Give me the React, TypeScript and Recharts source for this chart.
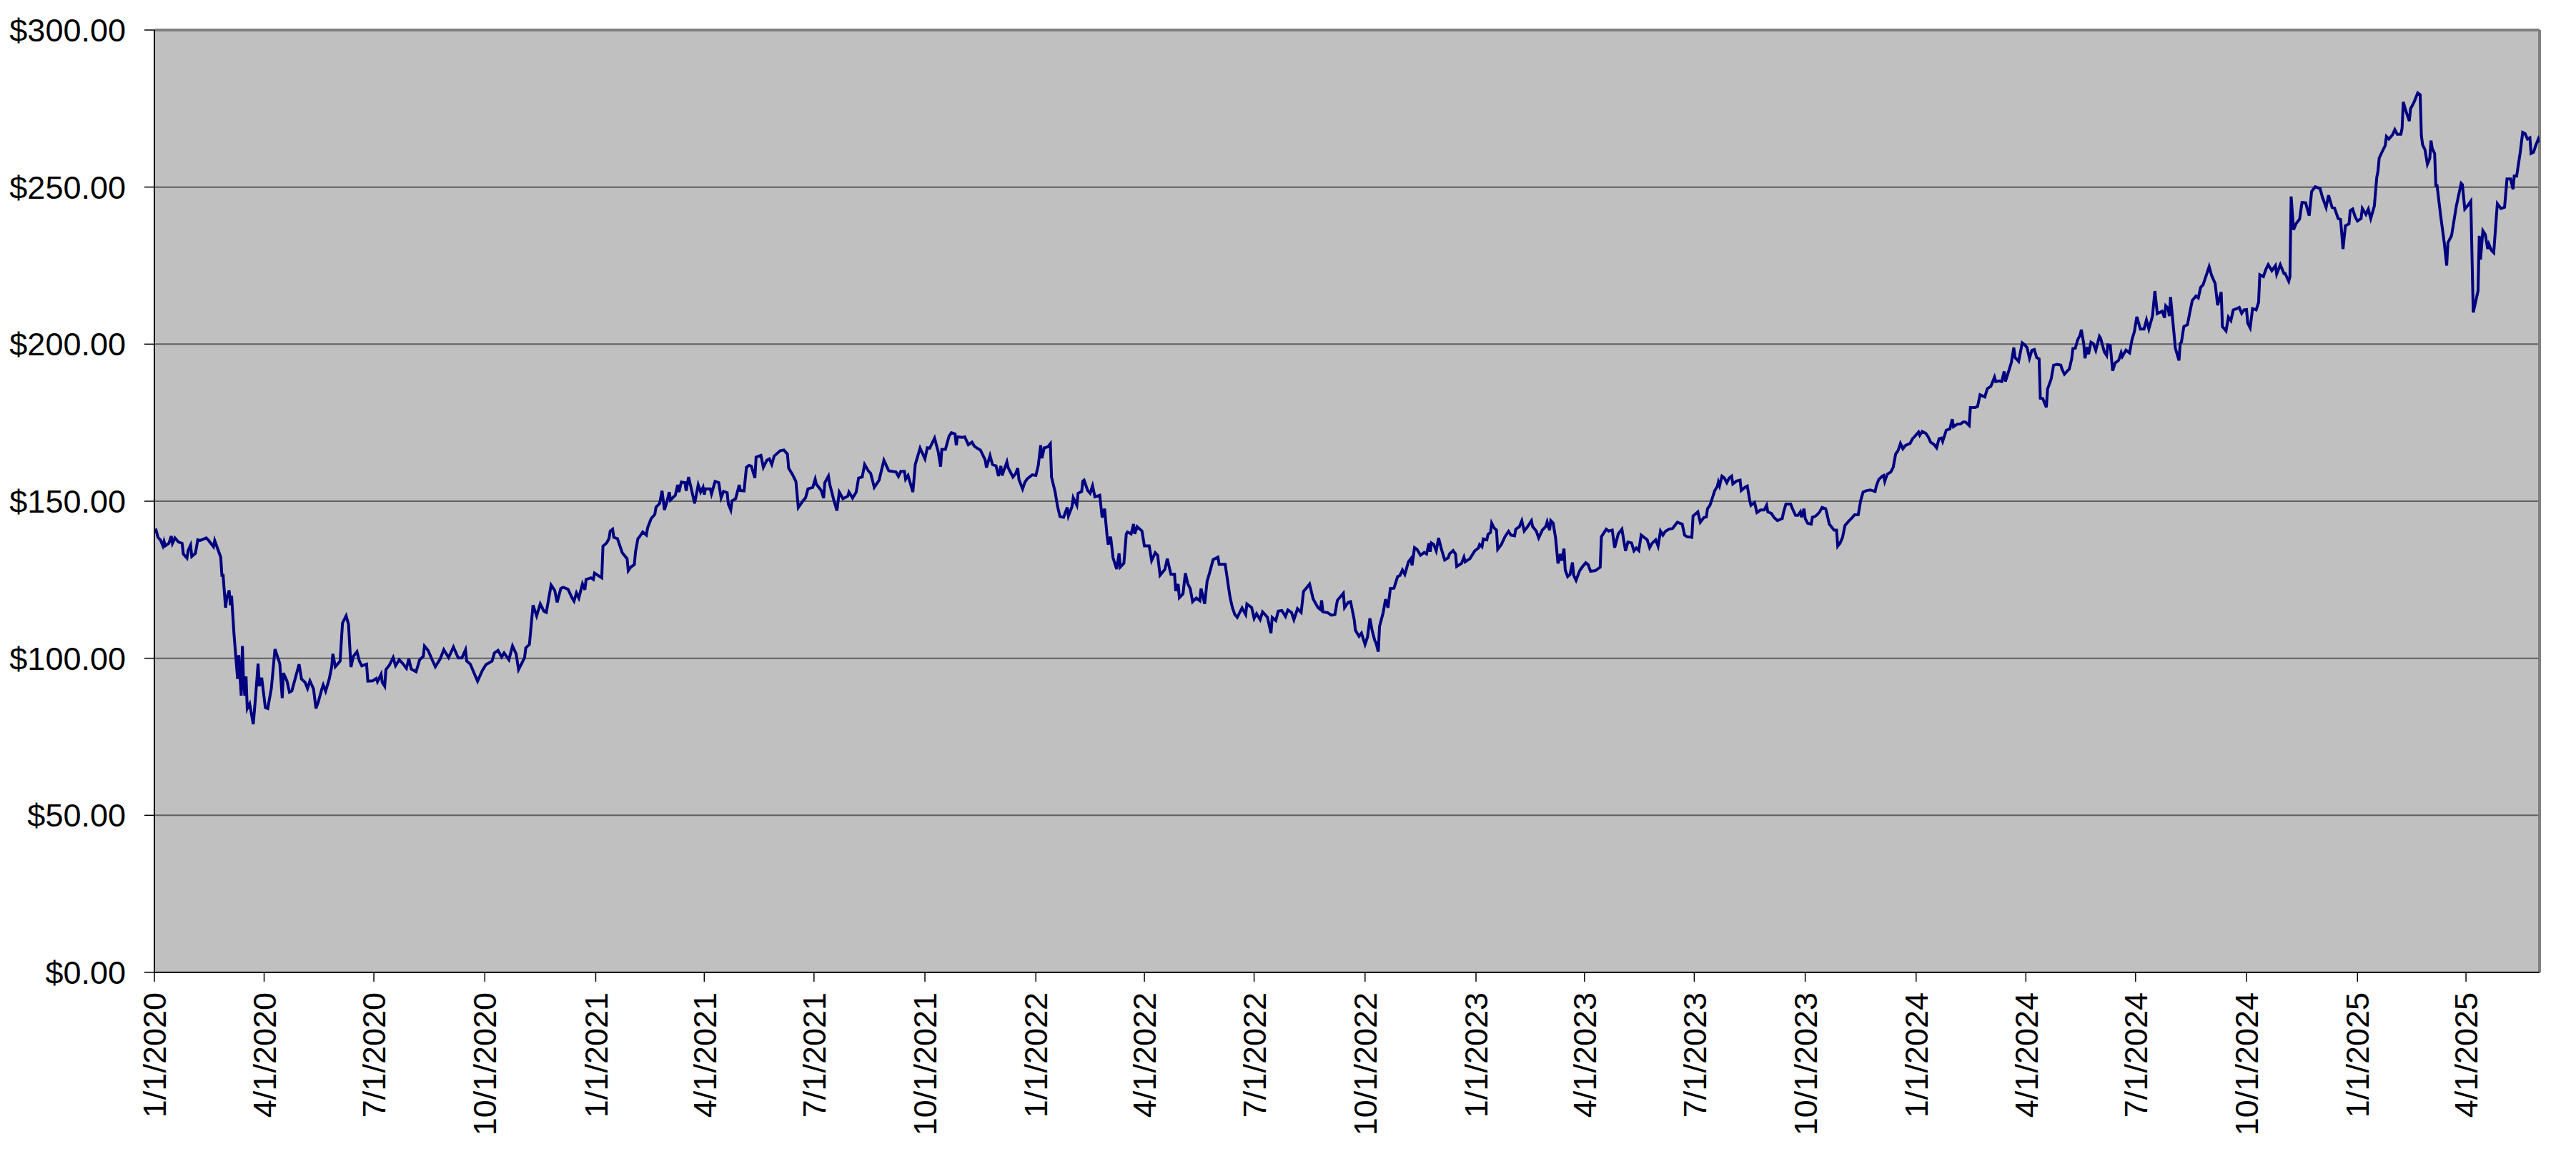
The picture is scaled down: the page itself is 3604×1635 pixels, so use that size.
import React from "react";
import {
  LineChart,
  Line,
  XAxis,
  YAxis,
  CartesianGrid,
  ReferenceLine,
} from "recharts";

// Dates are day offsets from 1/1/2020; values are share prices in dollars.
const START_DATE = "1/1/2020";

const tickDates = [
  "1/1/2020", "4/1/2020", "7/1/2020", "10/1/2020",
  "1/1/2021", "4/1/2021", "7/1/2021", "10/1/2021",
  "1/1/2022", "4/1/2022", "7/1/2022", "10/1/2022",
  "1/1/2023", "4/1/2023", "7/1/2023", "10/1/2023",
  "1/1/2024", "4/1/2024", "7/1/2024", "10/1/2024",
  "1/1/2025", "4/1/2025",
];

const yTicks = [0, 50, 100, 150, 200, 250, 300];

const prices2020: [number, number][] = [
  [1, 141.3], [3, 138.5], [5, 137.7], [7, 135.8], [8, 137.2], [9, 135.8], [12, 136.6], [14, 138.9],
  [15, 136.6], [17, 138.3], [20, 137], [23, 136.6], [24, 133.2], [27, 131.9], [28, 134.3], [30, 136],
  [31, 132.4], [34, 133.4], [36, 137.7], [38, 137.5], [43, 138.3], [45, 137.5], [49, 135.5], [50, 137.5],
  [53, 134.3], [55, 132.2], [56, 126.4], [57, 126.4], [59, 116.1], [60, 119.2], [62, 121.6], [63, 116.9],
  [64, 119.9], [66, 107.8], [69, 93.4], [70, 101], [71, 94.2], [72, 88.1], [73, 103.9], [74, 91.9],
  [75, 88.1], [76, 94.2], [77, 84], [79, 85.5], [82, 79], [84, 88.1], [86, 98.3], [87, 91.1],
  [89, 93.8], [92, 84.3], [94, 84], [97, 90.4], [100, 102.9], [104, 98.3], [106, 87.3], [107, 95.3],
  [110, 92.7], [112, 89.2], [114, 89.6], [120, 98.1], [122, 93.4], [125, 92.3], [127, 90.4], [129, 92.8],
  [132, 90.2], [134, 84], [136, 86.2], [139, 90.4], [140, 91.5], [142, 89.5], [145, 93.4], [147, 97.2],
  [148, 101.4], [150, 97.3], [154, 99.1], [156, 111.2], [159, 113.5], [161, 110.8], [163, 97.2], [165, 100.6],
  [168, 102.1], [170, 99.1], [172, 97.6], [176, 98.1], [177, 92.7], [181, 92.8], [184, 93.6], [185, 92.5],
  [188, 94.9], [189, 92.3], [191, 91.1], [192, 96.4], [195, 97.9], [198, 100.2], [200, 97.6], [203, 99.5],
  [206, 98.3], [209, 96.8], [211, 99.8], [213, 96.6], [217, 95.7], [220, 99.5], [223, 100.6], [224, 103.9],
  [227, 102.5], [230, 99.8], [233, 97.3], [237, 99.8], [240, 102.7], [244, 100.2], [248, 103.6], [252, 100.1],
  [255, 100.1], [258, 102.7], [259, 99.1], [262, 98.1], [268, 92.7], [272, 96.1], [275, 98], [280, 99.1],
  [282, 101.7], [285, 102.5], [288, 100.4], [290, 101.7], [294, 99.5], [297, 103.9], [300, 101.4], [302, 96.4],
  [307, 100.2], [308, 103.3], [311, 104.4], [314, 116.9], [317, 113.5], [320, 117.3], [323, 115], [325, 114.6],
  [329, 123.3], [332, 121.6], [334, 117.8], [337, 122.2], [339, 122.6], [343, 122], [346, 119.5], [348, 118.2],
  [350, 120.8], [352, 119.2], [355, 123.7], [357, 121.8], [358, 125.1], [362, 125.6], [364, 125.1],
];

const prices2021: [number, number][] = [
  [365, 127.1], [371, 125.6], [372, 135.7], [375, 136.7], [377, 138.1], [378, 140.5], [380, 141.1], [381, 138.5],
  [384, 138.1], [387, 134.7], [388, 133.6], [392, 131.7], [393, 127.9], [395, 129], [398, 129.8], [399, 133.9],
  [401, 138.1], [402, 138.5], [405, 140.2], [408, 139.2], [409, 141.5], [412, 144.5], [415, 145.8], [416, 148.1],
  [419, 149.3], [421, 153.3], [423, 147.2], [425, 149.8], [427, 152.9], [428, 150.4], [432, 151.9], [434, 155.2],
  [435, 152.9], [437, 156.1], [440, 155.9], [441, 153.3], [443, 157.7], [445, 154.4], [448, 149.3], [451, 155.2],
  [453, 152.9], [455, 154.4], [456, 152.1], [457, 153.9], [461, 153.9], [462, 152.3], [465, 156.3], [468, 155.9],
  [470, 151.1], [472, 153.1], [475, 152.7], [476, 149.1], [478, 147.2], [479, 150.1], [482, 150.8], [485, 155.2],
  [486, 153.4], [489, 153.3], [491, 160.8], [493, 161.4], [495, 161.2], [498, 157.4], [499, 164], [503, 164.6],
  [505, 160.8], [508, 163.1], [510, 163.5], [512, 161.7], [514, 164.4], [519, 166.1], [522, 166.3], [525, 165],
  [526, 160.5], [529, 158.6], [532, 156.3], [534, 148], [538, 150.2], [540, 151.1], [542, 153.9], [546, 154.4],
  [548, 157], [549, 155.4], [553, 153.4], [555, 151], [556, 155.9], [559, 158], [560, 155.5], [563, 151],
  [566, 147], [568, 152.9], [571, 150.8], [575, 151.6], [576, 152.9], [579, 151], [582, 152.9], [584, 157.4],
  [587, 157.7], [589, 161.7], [592, 159.7], [594, 158.9], [597, 154.4], [601, 156.7], [605, 163], [609, 159.7],
  [612, 159.5], [615, 159.3], [617, 157.9], [619, 159.5], [622, 159.5], [623, 157], [625, 158.2], [629, 152.9],
  [631, 161.7], [635, 166.9], [639, 163.5], [641, 167], [643, 166.9], [647, 170.1], [650, 165.8], [652, 161],
  [653, 166.5], [656, 166.5], [659, 170.7], [661, 171.8], [664, 171.4], [665, 167.8], [666, 170.5], [670, 170.3],
  [672, 170.5], [675, 168], [678, 168.8], [680, 167.5], [683, 166.7], [685, 166.3], [689, 163.1], [690, 160.7],
  [693, 164.5], [695, 161.7], [698, 161.2], [700, 158], [702, 161.2], [703, 158.2], [707, 162.5], [708, 160.7],
  [712, 157.7], [714, 158.6], [716, 160.5], [717, 156.9], [720, 153.9], [722, 156.1], [724, 157.2], [728, 158.4],
];

const prices2022: [number, number][] = [
  [731, 158.2], [733, 161.4], [735, 167.8], [736, 163.7], [738, 167], [741, 167.3], [743, 168.3], [744, 157.7],
  [747, 152.9], [749, 148.3], [751, 145.1], [754, 144.9], [757, 148], [758, 145.3], [761, 148.3], [762, 151.1],
  [765, 148.7], [766, 152.5], [769, 153.1], [770, 156.4], [771, 156.7], [774, 153.4], [776, 152.5], [778, 154.9],
  [780, 151.4], [784, 151.9], [786, 144.8], [788, 147.6], [790, 139.2], [791, 136.2], [793, 138.7], [795, 132],
  [798, 128.4], [800, 133.4], [801, 129], [804, 130.2], [806, 139.6], [807, 140.2], [810, 139.6], [812, 142.7],
  [813, 139.6], [815, 141.9], [819, 140.5], [821, 135.8], [825, 135.8], [827, 131.1], [830, 133.6], [832, 132.8],
  [834, 126.4], [838, 128.3], [840, 131.7], [843, 126.7], [846, 126.7], [847, 121.4], [849, 123.6], [850, 119.3],
  [853, 120.5], [855, 127.1], [857, 123.7], [859, 122.2], [861, 118], [864, 119.2], [867, 118.3], [868, 122.2],
  [871, 117.3], [873, 124.5], [875, 127.1], [878, 131.4], [882, 132.2], [883, 129.9], [888, 129.9], [892, 119.5],
  [894, 116.1], [896, 113.9], [898, 113], [902, 116], [905, 113.9], [906, 117.3], [910, 116.1], [912, 112.7],
  [914, 114.2], [917, 112.3], [919, 114.8], [923, 113.1], [926, 108], [927, 113], [930, 112], [932, 115],
  [935, 115.2], [938, 113.3], [940, 115.4], [943, 114.6], [945, 112.3], [948, 115.8], [951, 114.6], [953, 121.3],
  [955, 122.2], [958, 123.6], [961, 118.8], [965, 116.1], [967, 115.5], [968, 118.4], [969, 114.8], [973, 114.5],
  [976, 113.7], [979, 113.9], [981, 118.4], [986, 120.7], [987, 116.1], [990, 117.8], [992, 118], [995, 112.3],
  [996, 108.9], [999, 107], [1001, 108], [1004, 104.4], [1006, 106.7], [1008, 112.7], [1010, 108.6], [1012, 105.7],
  [1013, 105], [1015, 102.1], [1016, 110.1], [1019, 114.5], [1021, 118.8], [1023, 116.1], [1025, 122.2], [1028, 122.3],
  [1031, 126], [1033, 126.4], [1035, 128.1], [1037, 126.7], [1040, 130.7], [1042, 131.7], [1043, 129.6], [1045, 135.2],
  [1047, 134.7], [1050, 132.8], [1053, 133.7], [1055, 133.2], [1057, 136.6], [1058, 133.9], [1059, 136.7], [1061, 136.2],
  [1063, 134.2], [1065, 138.3], [1067, 135.2], [1070, 131.3], [1073, 132], [1074, 133.2], [1077, 134.3], [1079, 133.2],
  [1080, 129.2], [1084, 130.2], [1086, 132.2], [1087, 130.7], [1091, 131.7], [1095, 134.2],
];

const prices2023: [number, number][] = [
  [1098, 135.1], [1099, 136.2], [1101, 135.5], [1102, 138], [1105, 137.7], [1106, 139.5], [1108, 140], [1109, 143],
  [1111, 141.5], [1113, 140.8], [1114, 134.7], [1117, 136.2], [1120, 138.7], [1123, 140.4], [1125, 139.2], [1128, 139],
  [1129, 141.1], [1132, 141.9], [1134, 143.8], [1136, 140.5], [1139, 142], [1142, 143.8], [1143, 141.9], [1146, 140.5],
  [1148, 138.3], [1151, 140.8], [1154, 142], [1155, 143.4], [1157, 140.8], [1158, 143.8], [1160, 143], [1162, 138.3],
  [1164, 130.2], [1166, 133.2], [1167, 131.1], [1169, 134.9], [1170, 128.1], [1172, 126], [1174, 126.7], [1176, 130.5],
  [1177, 126.4], [1179, 124.8], [1182, 127.9], [1184, 129], [1187, 130.4], [1189, 129.8], [1191, 127.7], [1195, 127.9],
  [1199, 129], [1200, 138.7], [1204, 141.1], [1206, 140.5], [1209, 140.8], [1211, 135.2], [1214, 139.6], [1217, 141.1],
  [1220, 134.2], [1222, 137], [1225, 136.7], [1227, 134.2], [1229, 135.1], [1231, 134.3], [1233, 139.2], [1238, 137.7],
  [1240, 135.2], [1242, 136.6], [1245, 137.7], [1247, 135.7], [1249, 140.5], [1251, 139.2], [1253, 140.4], [1256, 141.1],
  [1259, 141.3], [1261, 142.3], [1263, 143.3], [1267, 142.7], [1269, 139.2], [1271, 138.7], [1275, 138.5], [1276, 145.3],
  [1280, 146.6], [1282, 143.3], [1285, 144.8], [1287, 145], [1288, 147.6], [1290, 148.7], [1291, 149.8], [1294, 153.4],
  [1296, 154.6], [1297, 156.1], [1298, 154.9], [1300, 158], [1302, 157.4], [1304, 155.9], [1306, 157.4], [1308, 158],
  [1309, 155.5], [1312, 156.4], [1315, 156.7], [1316, 153.4], [1319, 154.4], [1321, 154.8], [1323, 150.2], [1324, 148.7],
  [1327, 149.6], [1329, 146.4], [1332, 147.2], [1335, 147.2], [1337, 148.7], [1338, 146.6], [1341, 146.1], [1343, 144.9],
  [1346, 143.8], [1350, 144.5], [1351, 146.4], [1353, 149.1], [1357, 149.1], [1358, 148], [1361, 145.5], [1363, 145.5],
  [1365, 146.6], [1366, 144.9], [1368, 147.6], [1369, 144.5], [1371, 143], [1374, 142.7], [1375, 144.9], [1377, 145.1],
  [1379, 145.7], [1381, 146.6], [1383, 148], [1386, 147.6], [1387, 146.1], [1389, 142.7], [1393, 140.8], [1395, 140.8],
  [1396, 135.7], [1398, 136.7], [1400, 138.5], [1402, 142.3], [1405, 143.6], [1408, 144.8], [1410, 145.7], [1411, 145.7],
  [1413, 145.7], [1415, 150.2], [1417, 152.9], [1420, 153.4], [1423, 153.6], [1427, 153.1], [1428, 154.8], [1430, 156.9],
  [1433, 158], [1434, 158.2], [1435, 156.3], [1437, 158.6], [1440, 159.3], [1442, 160.8], [1444, 165], [1446, 166.1],
  [1448, 168.4], [1450, 166.7], [1452, 167.7], [1456, 168.4], [1458, 169.9],
];

const prices2024: [number, number][] = [
  [1460, 170.7], [1463, 172], [1464, 171], [1466, 172.2], [1469, 171.6], [1471, 170.5], [1473, 168.8], [1476, 168],
  [1478, 167], [1480, 169.9], [1482, 170.1], [1483, 169], [1486, 172.6], [1489, 173], [1491, 176.1], [1492, 173.7],
  [1495, 174.5], [1498, 174.6], [1500, 175.2], [1502, 175.2], [1505, 174.1], [1506, 179.8], [1510, 179.8], [1512, 180.2],
  [1514, 183.9], [1518, 183.2], [1520, 185.8], [1523, 186.6], [1526, 189.5], [1527, 188.1], [1530, 188.3], [1532, 188.1],
  [1534, 191.3], [1535, 188.1], [1538, 191.7], [1540, 194.2], [1542, 198.9], [1543, 195.8], [1546, 194.5], [1549, 200.4],
  [1551, 199.8], [1553, 198.9], [1555, 195.5], [1557, 198], [1559, 198.3], [1561, 195.7], [1563, 195.3], [1564, 182.8],
  [1566, 182.7], [1569, 179.9], [1570, 185.7], [1573, 188.9], [1575, 193.3], [1578, 193.6], [1581, 193.3], [1582, 192],
  [1584, 190.4], [1587, 191.7], [1588, 192], [1590, 195.3], [1591, 198.6], [1593, 198.7], [1595, 201.4], [1597, 202.9],
  [1598, 204.6], [1600, 200.2], [1601, 195.5], [1603, 199.1], [1604, 196.8], [1606, 200.6], [1608, 200.1], [1610, 198],
  [1613, 202.5], [1614, 201.9], [1617, 197.6], [1619, 196.4], [1620, 199.8], [1622, 199.6], [1624, 191.5], [1626, 194],
  [1629, 194.9], [1631, 197.3], [1632, 196.1], [1635, 198.1], [1638, 197.2], [1640, 201.4], [1642, 204], [1644, 208.7],
  [1647, 204.8], [1650, 204.8], [1652, 207.7], [1654, 204.8], [1657, 208.9], [1659, 216.9], [1661, 209.7], [1665, 210.5],
  [1667, 208.4], [1668, 212.2], [1670, 211.4], [1671, 208.9], [1672, 215], [1676, 198.7], [1679, 194.8], [1680, 200.2],
  [1681, 200.6], [1683, 205.6], [1686, 206.2], [1688, 210.1], [1690, 213.9], [1693, 215.3], [1695, 214.7], [1697, 218.1],
  [1699, 218.9], [1701, 221.2], [1704, 224.7], [1706, 221.9], [1709, 219.3], [1711, 212.4], [1714, 216.6], [1715, 205.6],
  [1718, 204.2], [1720, 208.6], [1722, 207.5], [1724, 210.9], [1727, 211.3], [1729, 211.7], [1731, 209.8], [1733, 210.9],
  [1735, 211], [1736, 206.7], [1738, 205.2], [1740, 211.3], [1743, 210.9], [1745, 213.3], [1746, 222.1], [1749, 221.5],
  [1751, 223.8], [1753, 225.3], [1756, 223.4], [1759, 225], [1760, 222.3], [1763, 225.3], [1766, 222.5], [1767, 222.5],
  [1770, 220], [1771, 221.4], [1772, 247], [1774, 236.4], [1776, 238.3], [1779, 239.8], [1781, 245.1], [1784, 245],
  [1787, 240.9], [1789, 248.6], [1792, 250.1], [1796, 249.5], [1798, 246.7], [1801, 243.5], [1803, 247.4], [1806, 243.5],
  [1808, 243.3], [1811, 240], [1813, 239.7], [1815, 230.3], [1817, 237.7], [1820, 238.3], [1821, 242.5], [1823, 243],
  [1825, 240.6],
];

const prices2025: [number, number][] = [
  [1827, 239.2], [1830, 240], [1831, 243.2], [1834, 241.3], [1836, 243], [1838, 240], [1841, 244], [1843, 253.1],
  [1844, 255], [1845, 259.2], [1848, 261.7], [1850, 263.2], [1851, 266.1], [1853, 265.3], [1856, 266.6], [1858, 268.3],
  [1860, 266.8], [1863, 266.8], [1864, 268.7], [1865, 277.1], [1867, 274.4], [1870, 271], [1871, 274.9], [1874, 277.1],
  [1877, 280], [1879, 279.4], [1880, 266.4], [1881, 263.5], [1883, 261.9], [1885, 257.3], [1887, 259.2], [1888, 264.8],
  [1889, 262.3], [1891, 260.7], [1892, 250.5], [1893, 250.5], [1896, 240.9], [1899, 232.2], [1901, 225], [1902, 232.3],
  [1905, 234.5], [1907, 239.2], [1909, 244], [1913, 251.2], [1914, 250.8], [1916, 243], [1919, 244.4], [1921, 245.5],
  [1923, 210.1], [1925, 213.5], [1927, 217], [1928, 234.5], [1929, 226.9], [1931, 236.1], [1933, 234.9], [1935, 230.3],
  [1936, 231.8], [1938, 229.9], [1940, 229.1], [1943, 244.7], [1946, 243.2], [1949, 243.6], [1951, 252.6], [1954, 252.6],
  [1956, 249.3], [1957, 253.5], [1959, 253.5], [1962, 261.1], [1964, 267.4], [1966, 267], [1968, 265.3], [1970, 265.7],
  [1971, 260.7], [1973, 261.1], [1975, 263.4], [1977, 265.3], [1978, 264.2],
];

const parseDate = (s: string) => {
  const [m, d, y] = s.split("/").map(Number);
  return Date.UTC(y, m - 1, d);
};
const startMs = parseDate(START_DATE);
const toDay = (s: string) => Math.round((parseDate(s) - startMs) / 86400000);

const data = [...prices2020, ...prices2021, ...prices2022, ...prices2023, ...prices2024, ...prices2025].map(
  ([day, price]) => ({ day, price })
);
const lastDay = data[data.length - 1].day;
const xTicks = tickDates.map(toDay);
const labelByDay: Record<number, string> = {};
tickDates.forEach((s) => (labelByDay[toDay(s)] = s));

const FONT = "'Liberation Sans', Arial, sans-serif";

const XTick = (props: any) => {
  const { x, y, payload } = props;
  return (
    <g transform={`translate(${x},${y})`}>
      <text
        x={0}
        y={0}
        dy="0.36em"
        textAnchor="end"
        transform="rotate(-90)"
        fontFamily={FONT}
        fontSize={45}
        fill="#000"
      >
        {labelByDay[payload.value]}
      </text>
    </g>
  );
};

export default function App() {
  return (
    <div style={{ width: 3588, height: 1619, background: "#fff" }}>
      <LineChart
        width={3588}
        height={1619}
        data={data}
        margin={{ top: 34, right: 43, left: 0, bottom: 0 }}
      >
        <CartesianGrid
          horizontal
          vertical={false}
          fill="#C0C0C0"
          fillOpacity={1}
          stroke="#5f5f5f"
          strokeWidth={2}
        />
        <XAxis
          dataKey="day"
          type="number"
          domain={[0, lastDay]}
          ticks={xTicks}
          interval={0}
          height={267}
          tickSize={13}
          tickMargin={15}
          tick={<XTick />}
          axisLine={{ stroke: "#000", strokeWidth: 2 }}
          tickLine={{ stroke: "#000", strokeWidth: 1.5 }}
          allowDataOverflow
        />
        <YAxis
          type="number"
          domain={[0, 300]}
          ticks={yTicks}
          interval={0}
          width={208}
          tickSize={14}
          tickMargin={26}
          tickFormatter={(v: number) => `$${v.toFixed(2)}`}
          tick={{ fontFamily: FONT, fontSize: 45, fill: "#000" }}
          axisLine={{ stroke: "#000", strokeWidth: 2 }}
          tickLine={{ stroke: "#000", strokeWidth: 1.5 }}
        />
        <ReferenceLine y={300} stroke="#808080" strokeWidth={4} />
        <ReferenceLine x={lastDay} stroke="#808080" strokeWidth={4} />
        <Line
          type="linear"
          dataKey="price"
          stroke="#000080"
          strokeWidth={4}
          dot={false}
          activeDot={false}
          isAnimationActive={false}
        />
      </LineChart>
    </div>
  );
}
